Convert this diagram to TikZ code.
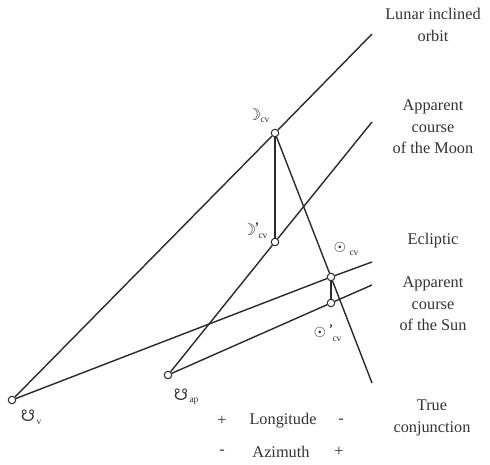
\documentclass[tikz,border=0pt]{standalone}
\usepackage{fontspec}
\setmainfont{Liberation Serif}
\newfontfamily\symfont{DejaVu Sans}
\definecolor{linec}{HTML}{2A2A2A}
\definecolor{txtc}{HTML}{333333}
\begin{document}
\begin{tikzpicture}[x=1pt,y=-1pt,
  pt/.style={circle,draw=linec,fill=white,line width=1pt,inner sep=0pt,minimum size=7.5pt},
  ln/.style={draw=linec,line width=1.4pt},
  lbl/.style={text=txtc,font=\fontsize{16.3}{21.5}\selectfont,align=center,inner sep=0pt},
  sym/.style={text=txtc,font=\symfont\bfseries\fontsize{16}{16}\selectfont,inner sep=0pt},
  sunsym/.style={text=txtc,font=\symfont\fontsize{14}{14}\selectfont,inner sep=0pt},
  prm/.style={text=txtc,font=\bfseries\fontsize{13}{13}\selectfont,inner sep=0pt},
  sub/.style={text=txtc,font=\fontsize{9.5}{9.5}\selectfont,inner sep=0pt}]
\useasboundingbox (0,0) rectangle (490,464);
% points
\node[pt] (nv) at (12,400) {};
\node[pt] (nap) at (168,375) {};
\node[pt] (M) at (275,133) {};
\node[pt] (Mp) at (275,242) {};
\node[pt] (S) at (331,277) {};
\node[pt] (Sp) at (331,303) {};
\coordinate (lo) at (372,34);
\coordinate (am) at (372,122);
\coordinate (ec) at (372,262);
\coordinate (as) at (372,285);
\coordinate (tc) at (372,383);
% lines
\draw[ln] (nv) -- (M) -- (lo);
\draw[ln] (nap) -- (Mp) -- (am);
\draw[ln] (nv) -- (S) -- (ec);
\draw[ln] (nap) -- (Sp) -- (as);
\draw[ln] (M) -- (Mp);
\draw[ln] (S) -- (Sp);
\draw[ln] (M) -- (S) -- (tc);
% point labels
\node[sym] (lm) at (254,115) {☽};
\node[sub] (lmcv) at (265,120) {cv};
\node[sym] (lmp) at (249,230) {☽};
\node[prm] (lmpq) at (257,227) {’};
\node[sub] (lmpcv) at (263,236) {cv};
\node[sunsym] (ls) at (340,247) {☉};
\node[sub] (lscv) at (354,253) {cv};
\node[sunsym] (lsp) at (320,332) {☉};
\node[prm] (lspq) at (331,329) {’};
\node[sub] (lspcv) at (337,339) {cv};
\node[sym] (lnv) at (28,416) {☋};
\node[sub] (lnvv) at (39,422) {v};
\node[sym] (lnap) at (181,395) {☋};
\node[sub] (lnapap) at (194,401) {ap};
% right labels
\node[lbl] (t1) at (433,25) {Lunar inclined\\orbit};
\node[lbl] (t2) at (433,127) {Apparent\\course\\of the Moon};
\node[lbl] (t3) at (433,241) {Ecliptic};
\node[lbl] (t4) at (433,304) {Apparent\\course\\of the Sun};
\node[lbl] (t5) at (432,418) {True\\conjunction};
% bottom
\node[lbl] (p1) at (222,421) {+};
\node[lbl] (lon) at (283,421) {Longitude};
\node[lbl] (m1) at (341,421) {-};
\node[lbl] (m2) at (222,452) {-};
\node[lbl] (az) at (281,452) {Azimuth};
\node[lbl] (p2) at (339,452) {+};
\end{tikzpicture}
\end{document}
